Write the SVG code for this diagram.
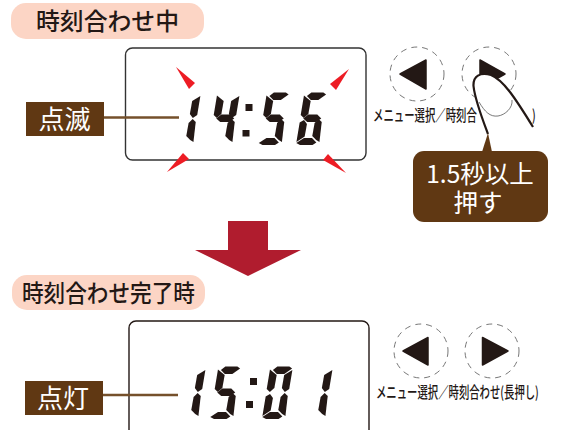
<svg xmlns="http://www.w3.org/2000/svg" width="574" height="430" viewBox="0 0 574 430">
<style>
text{font-family:"Noto Sans CJK JP","Liberation Sans",sans-serif}
.pill{fill:#fcd5c5}
.pt{font-size:24px;fill:#231815;font-weight:500}
.lcd{fill:#fff;stroke:#333;stroke-width:1.4}
.seg{fill:#231815}
.lab{fill:#603813}
.lt{font-size:26px;fill:#fff;text-anchor:middle;font-weight:400}
.lead{stroke:#75502b;stroke-width:2.400;fill:none}
.spark{fill:#ed1c24}
.dash{fill:#fff;stroke:#777;stroke-width:1;stroke-dasharray:6 5}
.tri{fill:#231815;stroke:#231815;stroke-width:1.500;stroke-linejoin:round}
.cap{font-size:15.500px;fill:#231815;font-weight:500}
.ct{font-size:24.500px;fill:#fff;text-anchor:middle;font-weight:400}
</style>
<defs>
<polygon id="a" points="3,-49 7,-52.500 19,-52.500 22,-50.500 15,-45 7.500,-45"/>
<polygon id="b" points="22.500,-49 15,-44 14.500,-31 18,-27 22,-30"/>
<polygon id="c" points="21.500,-23 18,-26 14.500,-22 14,-9 18.500,-5 22,-3"/>
<polygon id="d" points="-1,-2 6,-7 14,-7 19,-2.500 15.500,0 3,0"/>
<polygon id="e" points="-1,-3 6.500,-8.500 7,-21 3.500,-25 -0.500,-22.500"/>
<polygon id="f" points="-0.500,-30 3,-27 7,-31 7.500,-44 0,-49.500"/>
<polygon id="g" points="2.500,-26.500 7,-30.500 16,-30.500 20.500,-26.500 16,-23 7,-23"/>
<g id="d1" class="seg"><use href="#b"/><use href="#c"/></g>
<g id="d4" class="seg"><use href="#f"/><use href="#g"/><use href="#b"/><use href="#c"/></g>
<g id="d5" class="seg"><use href="#a"/><use href="#f"/><use href="#g"/><use href="#c"/><use href="#d"/></g>
<g id="d6" class="seg"><use href="#a"/><use href="#f"/><use href="#g"/><use href="#e"/><use href="#c"/><use href="#d"/></g>
<g id="d0" class="seg"><use href="#a"/><use href="#f"/><use href="#b"/><use href="#e"/><use href="#c"/><use href="#d"/></g>
</defs>

<g id="title-setting">
<rect class="pill" x="11" y="3" width="193" height="36" rx="15"/>
<text class="pt" x="36" y="30" textLength="143" lengthAdjust="spacingAndGlyphs">時刻合わせ中</text>
</g>

<g id="display-setting">
<rect class="lcd" x="125.500" y="48" width="240.500" height="112" rx="7"/>
<use href="#d1" transform="translate(171,145) skewX(-8)"/>
<use href="#d4" transform="translate(210,145) skewX(-8)"/>
<rect class="seg" x="245.500" y="104" width="7" height="7"/>
<rect class="seg" x="242.500" y="130" width="7" height="6.500"/>
<use href="#d5" transform="translate(259.500,145) skewX(-8)"/>
<use href="#d6" transform="translate(297,145) skewX(-8)"/>
</g>

<g id="sparks">
<polygon class="spark" points="176,67 195,83 189,89"/>
<polygon class="spark" points="349,69 330,84 336,90"/>
<polygon class="spark" points="167,172 183,153 189,159"/>
<polygon class="spark" points="346,173 323,160 328,154"/>
</g>

<g id="label-blink">
<rect class="lab" x="26" y="102" width="78" height="34"/>
<text class="lt" x="64.500" y="129">点滅</text>
</g>

<g id="buttons-setting">
<circle class="dash" cx="417" cy="74" r="27"/>
<polygon class="tri" points="400,74 426,60 426,89"/>
<circle class="dash" cx="489" cy="74" r="27"/>
<polygon class="tri" points="480,60 505,74 480,88"/>
<text class="cap" transform="translate(373,121) scale(.67,1)" textLength="155" lengthAdjust="spacingAndGlyphs">メニュー選択／時刻合</text>
<text class="cap" transform="translate(532,121) scale(.67,1)">)</text>
</g>

<g id="hand">
<path d="M488,134 C482,118 475,100 473.500,86 C473,76 480,72 491,75 C503,80 514,96 533,127 L520,150 L490,150 Z" fill="#fff"/>
<path d="M488,134 C482,118 475,100 473.500,86 C473,76 480,72 491,75 C503,80 514,96 533,127" fill="none" stroke="#231815" stroke-width="2.200"/>
<path d="M479,102 C485,112 490,117 498,116 C505,115 513,108 512,100" fill="none" stroke="#555" stroke-width="0.800"/>
</g>

<g id="callout">
<polygon class="lab" points="482,152 492,152 488,133"/>
<rect class="lab" x="413" y="151" width="135" height="71" rx="11"/>
<text class="ct" x="480" y="183">1.5秒以上<tspan x="478" dy="29">押す</tspan></text>
</g>

<g id="arrow">
<polygon points="228,221 268,221 268,250 301,250 248,276 195,250 228,250" fill="#b01c2e"/>
</g>

<g id="title-done">
<rect class="pill" x="12" y="275" width="193" height="35" rx="15"/>
<text class="pt" x="22" y="302" textLength="173" lengthAdjust="spacingAndGlyphs">時刻合わせ完了時</text>
</g>

<g id="display-done">
<rect class="lcd" x="129" y="321" width="240" height="116" rx="7" style="stroke:#231815"/>
<use href="#d1" transform="translate(176,419) skewX(-8)"/>
<use href="#d5" transform="translate(211,419) skewX(-8)"/>
<rect class="seg" x="250" y="378" width="7" height="7"/>
<rect class="seg" x="246" y="401" width="7" height="7"/>
<use href="#d0" transform="translate(263,419) skewX(-8)"/>
<use href="#d1" transform="translate(303,419) skewX(-8)"/>
</g>

<g id="label-lit">
<rect class="lab" x="25" y="381" width="78" height="34"/>
<text class="lt" x="63" y="408">点灯</text>
</g>

<g id="buttons-done">
<circle class="dash" cx="421" cy="351" r="27"/>
<polygon class="tri" points="403,351 428,337.500 428,365"/>
<circle class="dash" cx="492" cy="351" r="27"/>
<polygon class="tri" points="482.500,337.500 508,351 482.500,365"/>
<text class="cap" transform="translate(376,398) scale(.67,1)" textLength="243" lengthAdjust="spacingAndGlyphs">メニュー選択／時刻合わせ(長押し)</text>
</g>

<g id="connectors">
<line class="lead" x1="104" y1="117.500" x2="179" y2="117.500"/>
<line class="lead" x1="103" y1="395" x2="178" y2="395"/>
</g>
</svg>
